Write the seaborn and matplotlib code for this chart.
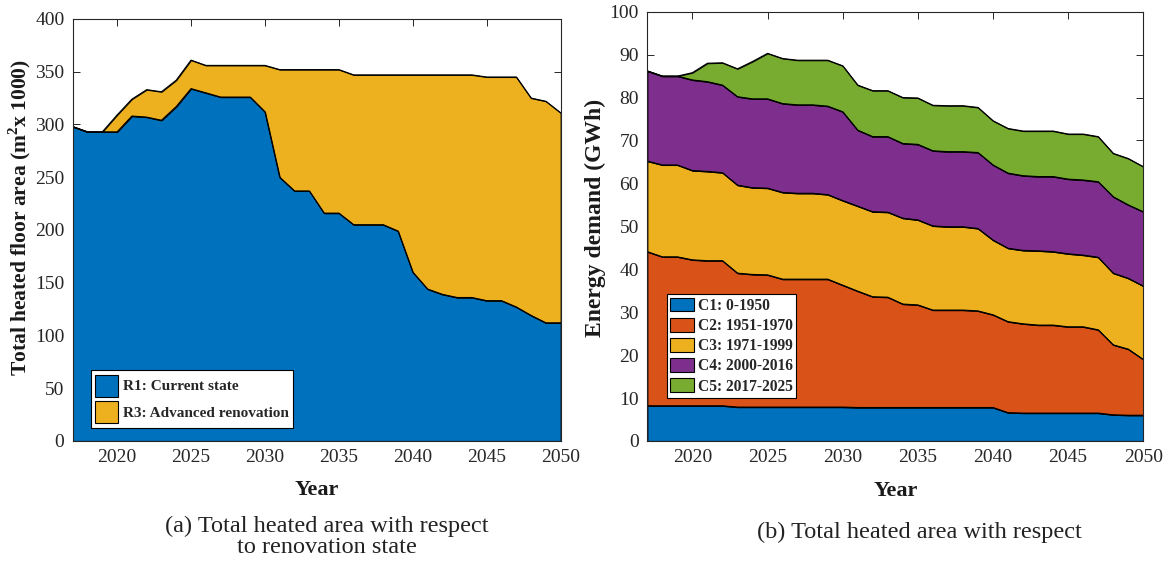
import matplotlib
matplotlib.use("Agg")
import matplotlib.pyplot as plt
import seaborn as sns
import numpy as np

# ---- data -------------------------------------------------------------
years = list(range(2017, 2051))

# (a) heated floor area by renovation state (m2 x 1000)
r1_current = [298, 293, 293, 293, 308, 307, 304, 317, 334, 330, 326, 326, 326, 312,
              250, 237, 237, 216, 216, 205, 205, 205, 199, 160, 144, 139, 136, 136,
              133, 133, 127, 119, 112, 112]
r3_advanced = [0, 0, 0, 16, 16, 26, 27, 25, 27, 26, 30, 30, 30, 44,
               102, 115, 115, 136, 136, 142, 142, 142, 148, 187, 203, 208, 211, 211,
               212, 212, 218, 206, 210, 199]
area_labels = ["R1: Current state", "R3: Advanced renovation"]

# (b) energy demand by construction period (GWh)
c1 = [8.2, 8.2, 8.2, 8.2, 8.2, 8.2, 7.9, 7.9, 7.9, 7.9, 7.9, 7.9, 7.9, 7.9,
      7.8, 7.8, 7.8, 7.8, 7.8, 7.8, 7.8, 7.8, 7.8, 7.8, 6.6, 6.5, 6.5, 6.5,
      6.5, 6.5, 6.5, 6.1, 6.0, 6.0]
c2 = [35.9, 34.7, 34.7, 34.0, 33.8, 33.8, 31.2, 30.9, 30.8, 29.8, 29.8, 29.8, 29.8, 28.4,
      27.1, 25.8, 25.7, 24.1, 23.9, 22.7, 22.7, 22.7, 22.5, 21.6, 21.2, 20.8, 20.5, 20.5,
      20.1, 20.1, 19.4, 16.3, 15.4, 13.0]
c3 = [21.1, 21.4, 21.4, 20.8, 20.8, 20.5, 20.5, 20.2, 20.2, 20.2, 20.0, 20.0, 19.7, 19.7,
      19.8, 19.8, 19.8, 20.0, 19.8, 19.6, 19.4, 19.4, 19.2, 17.4, 17.1, 17.1, 17.3, 17.1,
      17.0, 16.7, 16.9, 16.7, 16.5, 17.1]
c4 = [21.0, 20.7, 20.7, 21.1, 20.9, 20.4, 20.6, 20.7, 20.8, 20.7, 20.6, 20.6, 20.6, 20.7,
      17.7, 17.5, 17.6, 17.4, 17.6, 17.5, 17.5, 17.5, 17.7, 17.5, 17.5, 17.4, 17.3, 17.5,
      17.4, 17.5, 17.6, 17.8, 17.1, 17.3]
c5 = [0.0, 0.0, 0.0, 1.7, 4.3, 5.2, 6.5, 8.7, 10.6, 10.5, 10.4, 10.4, 10.7, 10.7,
      10.5, 10.7, 10.7, 10.7, 10.8, 10.6, 10.7, 10.7, 10.5, 10.3, 10.4, 10.4, 10.6, 10.6,
      10.5, 10.7, 10.5, 10.1, 10.8, 10.5]
period_labels = ["C1: 0-1950", "C2: 1951-1970", "C3: 1971-1999",
                 "C4: 2000-2016", "C5: 2017-2025"]

xticks = [2020, 2025, 2030, 2035, 2040, 2045, 2050]

# ---- style ------------------------------------------------------------
sns.set_theme(style="ticks")
plt.rcParams["font.family"] = ["Liberation Serif", "DejaVu Serif"]
plt.rcParams["mathtext.fontset"] = "custom"
plt.rcParams["mathtext.rm"] = "Liberation Serif"
plt.rcParams["mathtext.bf"] = "Liberation Serif:bold"

colors = ["#0072BD", "#D95319", "#EDB120", "#7E2F8E", "#77AC30"]
axis_grey = "#262626"

fig = plt.figure(figsize=(11.71, 5.63), dpi=100)
ax_a = fig.add_axes([0.0621, 0.2167, 0.4167, 0.7496])
ax_b = fig.add_axes([0.5528, 0.2167, 0.4235, 0.7625])


def style_axes(ax, ylim, yticks):
    ax.set_xlim(2017, 2050)
    ax.set_ylim(*ylim)
    ax.set_xticks(xticks)
    ax.set_yticks(yticks)
    ax.tick_params(direction="in", top=True, right=True, length=5, width=0.7,
                   colors=axis_grey, labelsize=14, pad=6)
    for sp in ax.spines.values():
        sp.set_color(axis_grey)
        sp.set_linewidth(0.8)
    ax.set_xlabel("Year", fontsize=16, fontweight="bold", color="#1a1a1a")
    ax.xaxis.set_label_coords(0.5, -0.093)


def stacked_area(ax, layers, cols, labels):
    polys = ax.stackplot(years, *layers, colors=cols, labels=labels,
                         edgecolor="black", linewidth=0.8)
    # outline each band's upper boundary
    top = np.zeros(len(years))
    for layer in layers:
        top = top + np.asarray(layer, dtype=float)
        sns.lineplot(x=years, y=top, ax=ax, color="black", linewidth=0.8,
                     legend=False)
    return polys


# (a)
stacked_area(ax_a, [r1_current, r3_advanced], colors[:1] + colors[2:3], area_labels)
style_axes(ax_a, (0, 400), range(0, 401, 50))
ax_a.set_ylabel(r"Total heated floor area (m$^{\mathbf{2}}$x 1000)",
                fontsize=15.5, fontweight="bold", color="#1a1a1a")
ax_a.yaxis.set_label_coords(-0.082, 0.53)
leg_a = ax_a.legend(loc="lower left", bbox_to_anchor=(0.037, 0.031),
                    prop={"weight": "bold", "size": 11}, frameon=True,
                    fancybox=False, framealpha=1, edgecolor="black",
                    handlelength=1.5, handleheight=1.85, handletextpad=0.3,
                    borderpad=0.3, labelspacing=0.3, borderaxespad=0)
leg_a.get_frame().set_linewidth(0.8)

# (b)
stacked_area(ax_b, [c1, c2, c3, c4, c5], colors, period_labels)
style_axes(ax_b, (0, 100), range(0, 101, 10))
ax_b.set_ylabel("Energy demand (GWh)", fontsize=17, fontweight="bold", color="#1a1a1a")
ax_b.yaxis.set_label_coords(-0.083, 0.52)
leg_b = ax_b.legend(loc="lower left", bbox_to_anchor=(0.039, 0.101),
                    prop={"weight": "bold", "size": 11.2}, frameon=True,
                    fancybox=False, framealpha=1, edgecolor="black",
                    handlelength=1.55, handleheight=1.0, handletextpad=0.25,
                    borderpad=0.2, labelspacing=0.25, borderaxespad=0)
leg_b.get_frame().set_linewidth(0.8)

# captions
fig.text(0.279, 0.083, "(a) Total heated area with respect\nto renovation state",
         ha="center", va="top", fontsize=17.5, linespacing=0.95, color="#222222")
fig.text(0.785, 0.055, "(b) Total heated area with respect",
         ha="center", va="center", fontsize=17.5, color="#222222")

fig.savefig("out.png", dpi=100)
